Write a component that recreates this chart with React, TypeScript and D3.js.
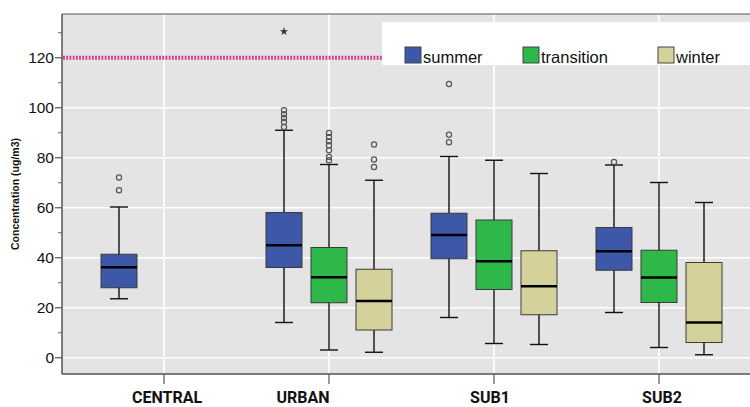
import React, { useEffect, useRef } from 'react';
import * as d3 from 'd3';

// values (ug/m3)
const categories = ['CENTRAL', 'URBAN', 'SUB1', 'SUB2'];
const seasons = ['summer', 'transition', 'winter'];

// [lower whisker, Q1, median, Q3, upper whisker]
const summerStats = [
  [23.6, 28.0, 36.2, 41.4, 60.3],
  [14.1, 36.1, 45.0, 58.1, 91.0],
  [16.1, 39.6, 49.1, 57.8, 80.5],
  [18.1, 35.0, 42.6, 52.1, 77.1],
];
const transitionStats = [
  null,
  [3.1, 22.0, 32.2, 44.1, 77.3],
  [5.7, 27.3, 38.6, 55.1, 79.0],
  [4.1, 22.1, 32.1, 43.0, 70.1],
];
const winterStats = [
  null,
  [2.2, 11.1, 22.7, 35.4, 71.0],
  [5.3, 17.2, 28.6, 42.8, 73.7],
  [1.2, 6.1, 14.1, 38.1, 62.1],
];

const summerOutliers = [[72.1, 67.0], [99.0, 97.4, 95.9, 94.3, 92.3], [109.5, 89.2, 86.2], [78.3]];
const transitionOutliers = [[], [89.9, 88.3, 86.6, 85.0, 83.0, 80.3, 79.0], [], []];
const winterOutliers = [[], [85.3, 79.3, 76.3], [], []];
const summerExtremes = [[], [130.5], [], []];

const limitValue = 120;
const majorTicks = [0, 20, 40, 60, 80, 100, 120];
const minorTicks = [10, 30, 50, 70, 90, 110, 130];

const seasonColors = ['#3d57a9', '#2eb84a', '#d5d19b'];
// the category labels in the picture are not exactly centred on their ticks
const labelShift = [3, -26, -4, 3];
const legendX = [405, 523, 658];

export default function App() {
  const ref = useRef<SVGSVGElement>(null);

  useEffect(() => {
    if (!ref.current) return;
    const W = 750, H = 407;
    const left = 62, top = 14, bottom = 374;

    const svg = d3.select(ref.current);
    svg.selectAll('*').remove();
    svg.attr('width', W).attr('height', H);

    const y = d3.scaleLinear().domain([-6.5, 137.5]).range([bottom, top]);
    const x = d3.scalePoint().domain(categories).range([164, 659]);
    const xs = d3.scalePoint().domain(seasons).range([-45, 45]);
    const boxW = 36;

    svg.append('rect').attr('width', W).attr('height', H).attr('fill', '#fff');
    svg.append('rect')
      .attr('x', left).attr('y', top)
      .attr('width', W - left).attr('height', bottom - top)
      .attr('fill', '#e4e4e4');

    // gridlines
    svg.append('g').selectAll('line')
      .data(majorTicks)
      .join('line')
      .attr('x1', left).attr('x2', W)
      .attr('y1', d => y(d)).attr('y2', d => y(d))
      .attr('stroke', '#fff').attr('stroke-width', 1.6);
    svg.append('g').selectAll('line')
      .data(categories)
      .join('line')
      .attr('x1', d => x(d)!).attr('x2', d => x(d)!)
      .attr('y1', top).attr('y2', bottom)
      .attr('stroke', '#fff').attr('stroke-width', 1.6);

    // reference limit
    svg.append('line')
      .attr('x1', left + 1).attr('x2', W)
      .attr('y1', y(limitValue)).attr('y2', y(limitValue))
      .attr('stroke', '#d6438e').attr('stroke-width', 4)
      .attr('stroke-dasharray', '2 1.2');

    // legend
    svg.append('rect')
      .attr('x', 382).attr('y', 22).attr('width', W - 382).attr('height', 43)
      .attr('fill', '#fff');
    const leg = svg.append('g').selectAll('g')
      .data(seasons)
      .join('g')
      .attr('transform', (d, i) => `translate(${legendX[i]},47)`);
    leg.append('rect')
      .attr('width', 16).attr('height', 16)
      .attr('fill', (d, i) => seasonColors[i])
      .attr('stroke', '#444').attr('stroke-width', 1);
    leg.append('text')
      .attr('x', 18).attr('y', 15.5)
      .attr('font-family', 'Arial, "Liberation Sans", sans-serif')
      .attr('font-size', 16.5).attr('fill', '#111')
      .text(d => d);

    // boxes
    const statsBySeason = [summerStats, transitionStats, winterStats];
    const outBySeason = [summerOutliers, transitionOutliers, winterOutliers];
    const boxes = svg.append('g');
    seasons.forEach((s, si) => {
      categories.forEach((c, ci) => {
        const st = statsBySeason[si][ci];
        const cx = x(c)! + xs(s)!;
        if (st) {
          const [lo, q1, med, q3, hi] = st;
          const g = boxes.append('g');
          g.append('line').attr('x1', cx).attr('x2', cx)
            .attr('y1', y(hi)).attr('y2', y(lo))
            .attr('stroke', '#111').attr('stroke-width', 1.4);
          [lo, hi].forEach(v => {
            g.append('line').attr('x1', cx - 9).attr('x2', cx + 9)
              .attr('y1', y(v)).attr('y2', y(v))
              .attr('stroke', '#111').attr('stroke-width', 1.4);
          });
          g.append('rect')
            .attr('x', cx - boxW / 2).attr('y', y(q3))
            .attr('width', boxW).attr('height', y(q1) - y(q3))
            .attr('fill', seasonColors[si])
            .attr('stroke', '#3a3a3a').attr('stroke-width', 1);
          g.append('line').attr('x1', cx - boxW / 2).attr('x2', cx + boxW / 2)
            .attr('y1', y(med)).attr('y2', y(med))
            .attr('stroke', '#000').attr('stroke-width', 2.4);
        }
        boxes.append('g').selectAll('circle')
          .data(outBySeason[si][ci])
          .join('circle')
          .attr('cx', cx).attr('cy', d => y(d)).attr('r', 2.6)
          .attr('fill', 'none').attr('stroke', '#555').attr('stroke-width', 1.2);
        if (si === 0) {
          boxes.append('g').selectAll('path')
            .data(summerExtremes[ci])
            .join('path')
            .attr('transform', d => `translate(${cx},${y(d)})`)
            .attr('d', d3.symbol(d3.symbolStar, 22)())
            .attr('fill', '#333');
        }
      });
    });

    // frame
    svg.append('line').attr('x1', left).attr('x2', W).attr('y1', top).attr('y2', top)
      .attr('stroke', '#888').attr('stroke-width', 1.5);

    // y axis
    const ya = svg.append('g').attr('transform', `translate(${left},0)`);
    ya.append('line').attr('y1', top).attr('y2', bottom).attr('stroke', '#555').attr('stroke-width', 1.5);
    ya.selectAll('.maj').data(majorTicks).join('line').attr('class', 'maj')
      .attr('x1', -7).attr('x2', 0).attr('y1', d => y(d)).attr('y2', d => y(d))
      .attr('stroke', '#555').attr('stroke-width', 1.2);
    ya.selectAll('.min').data(minorTicks).join('line').attr('class', 'min')
      .attr('x1', -4).attr('x2', 0).attr('y1', d => y(d)).attr('y2', d => y(d))
      .attr('stroke', '#666').attr('stroke-width', 1);
    ya.selectAll('text').data(majorTicks).join('text')
      .attr('x', -8).attr('y', d => y(d)).attr('dy', '0.36em')
      .attr('text-anchor', 'end')
      .attr('font-family', 'Arial, "Liberation Sans", sans-serif')
      .attr('font-size', 15.5).attr('fill', '#111')
      .text(d => d);
    svg.append('text')
      .attr('transform', `translate(19,${(top + bottom) / 2}) rotate(-90)`)
      .attr('text-anchor', 'middle')
      .attr('font-family', 'Arial, "Liberation Sans", sans-serif')
      .attr('font-size', 10.5).attr('font-weight', 'bold').attr('fill', '#111')
      .text('Concentration (ug/m3)');

    // x axis
    const xa = svg.append('g');
    xa.append('line').attr('x1', left).attr('x2', W).attr('y1', bottom).attr('y2', bottom)
      .attr('stroke', '#555').attr('stroke-width', 1.5);
    xa.selectAll('.tk').data(categories).join('line').attr('class', 'tk')
      .attr('x1', d => x(d)!).attr('x2', d => x(d)!)
      .attr('y1', bottom).attr('y2', bottom + 10)
      .attr('stroke', '#555').attr('stroke-width', 1.2);
    xa.selectAll('text').data(categories).join('text')
      .attr('x', (d, i) => x(d)! + labelShift[i]).attr('y', 403)
      .attr('text-anchor', 'middle')
      .attr('font-family', 'Roboto, "Open Sans", sans-serif')
      .attr('font-size', 16).attr('font-weight', 'bold').attr('fill', '#111')
      .text(d => d);
  }, []);

  return <svg ref={ref} style={{ position: 'absolute', left: 0, top: 0, display: 'block' }} />;
}
